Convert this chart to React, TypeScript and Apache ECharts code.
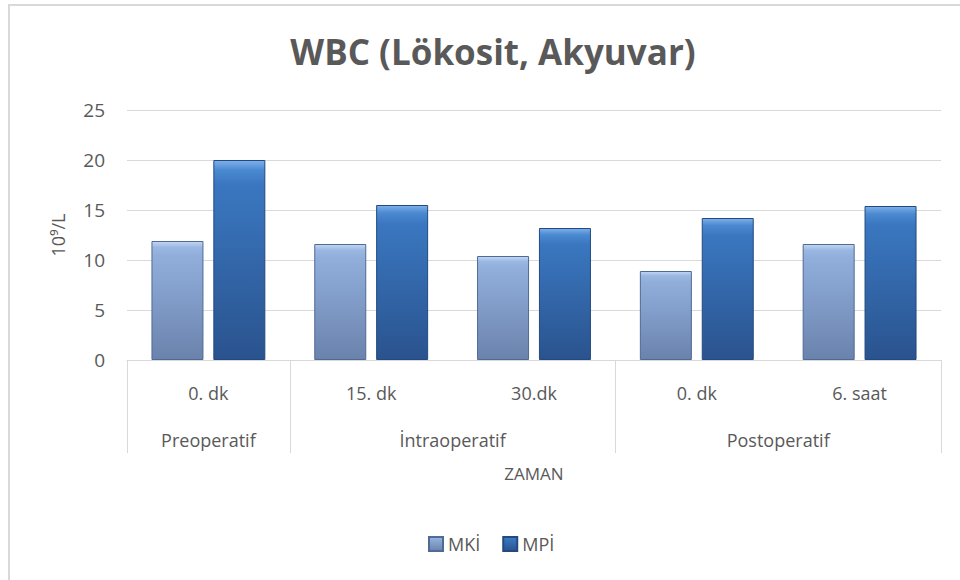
import React, { useEffect, useRef } from "react";
import * as echarts from "echarts";

const subCategories = ["0. dk", "15. dk", "30.dk", "0. dk", "6. saat"];
const groupNames = ["Preoperatif", "İntraoperatif", "Postoperatif"];
const groupCenters = [0.5, 2, 4];
const groupBounds = [0, 1, 3, 5];
const mkiValues = [11.9, 11.6, 10.4, 8.9, 11.6];
const mpiValues = [20.0, 15.5, 13.2, 14.2, 15.4];
const yTicks = [0, 5, 10, 15, 20, 25];

const FONT = "'Open Sans', 'Noto Sans', sans-serif";
const TXT = "#595959";

export default function App() {
  const ref = useRef<HTMLDivElement>(null);
  useEffect(() => {
    document.body.style.margin = "0";
    const chart = echarts.init(ref.current!, null, { renderer: "svg" });
    const mkiColor = new echarts.graphic.LinearGradient(0, 0, 0, 1, [
      { offset: 0, color: "#c3d7f3" },
      { offset: 0.05, color: "#9ab7e2" },
      { offset: 0.12, color: "#91aedb" },
      { offset: 1, color: "#6a83ad" },
    ]);
    const mpiColor = new echarts.graphic.LinearGradient(0, 0, 0, 1, [
      { offset: 0, color: "#7eb0ea" },
      { offset: 0.05, color: "#4a88d0" },
      { offset: 0.12, color: "#3a77c0" },
      { offset: 1, color: "#2a538e" },
    ]);
    chart.setOption({
      animation: false,
      backgroundColor: "#ffffff",
      textStyle: { fontFamily: FONT, color: TXT },
      graphic: [
        {
          type: "rect",
          shape: { x: 9, y: 5, width: 1000, height: 1000 },
          style: { fill: "none", stroke: "#d9d9d9", lineWidth: 2 },
          silent: true,
        },
      ],
      title: {
        text: "WBC (Lökosit, Akyuvar)",
        left: 488,
        textAlign: "center",
        top: 29,
        textStyle: { fontFamily: FONT, fontSize: 35, fontWeight: "bold", color: TXT },
      },
      legend: {
        data: ["MKİ", "MPİ"],
        left: 428,
        top: 535,
        icon: "rect",
        itemWidth: 14,
        itemHeight: 14,
        itemGap: 22,
        textStyle: { fontFamily: FONT, fontSize: 18, color: TXT },
        padding: [0, 0, 0, 0],
        selectedMode: false,
      },
      grid: { left: 127, right: 19, top: 110, bottom: 220, containLabel: false },
      xAxis: [
        {
          type: "category",
          data: subCategories,
          position: "bottom",
          axisLine: { show: true, lineStyle: { color: "#d9d9d9", width: 1 } },
          axisTick: { show: false },
          axisLabel: { margin: 24, fontSize: 18, color: TXT, fontFamily: FONT },
          name: "ZAMAN",
          nameLocation: "middle",
          nameGap: 105,
          nameTextStyle: { fontSize: 17, color: TXT, fontFamily: FONT },
        },
        {
          type: "value",
          min: 0,
          max: 5,
          position: "bottom",
          axisLine: { show: false },
          splitLine: { show: false },
          axisTick: {
            show: true,
            customValues: groupBounds,
            length: 93,
            lineStyle: { color: "#d9d9d9", width: 1 },
          },
          axisLabel: {
            show: true,
            customValues: groupCenters,
            margin: 71,
            fontSize: 18,
            color: TXT,
            fontFamily: FONT,
            formatter: (v: number) => {
              const i = groupCenters.indexOf(v);
              return i >= 0 ? groupNames[i] : "";
            },
          },
        },
      ],
      yAxis: {
        type: "value",
        min: yTicks[0],
        max: yTicks[yTicks.length - 1],
        interval: 5,
        axisLine: { show: false },
        axisTick: { show: false },
        splitLine: { lineStyle: { color: "#d9d9d9", width: 1 } },
        axisLabel: { margin: 22, fontSize: 19, color: TXT, fontFamily: FONT },
        name: "10⁹/L",
        nameLocation: "middle",
        nameGap: 60,
        nameTextStyle: { fontSize: 18, color: TXT, fontFamily: FONT },
      },
      series: [
        {
          name: "MKİ",
          type: "bar",
          xAxisIndex: 0,
          data: mkiValues,
          barWidth: 52,
          barGap: "19%",
          itemStyle: { color: mkiColor, borderColor: "#4f6a93", borderWidth: 1 },
        },
        {
          name: "MPİ",
          type: "bar",
          xAxisIndex: 0,
          data: mpiValues,
          barWidth: 52,
          barGap: "19%",
          itemStyle: { color: mpiColor, borderColor: "#234a80", borderWidth: 1 },
        },
      ],
    });
    return () => chart.dispose();
  }, []);
  return (
    <div
      ref={ref}
      style={{ position: "absolute", left: 0, top: 0, width: 960, height: 580 }}
    />
  );
}
